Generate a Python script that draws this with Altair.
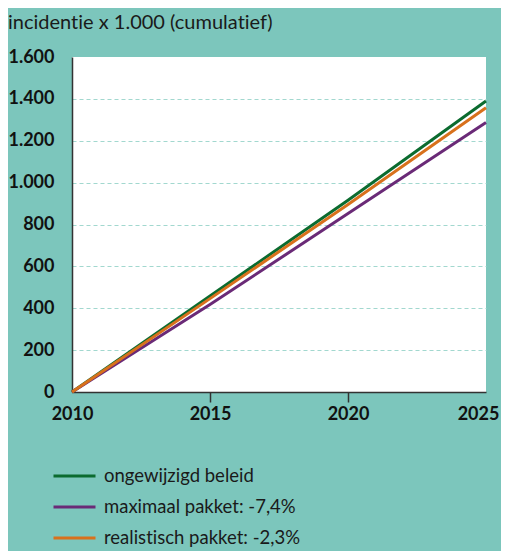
import altair as alt
import pandas as pd

years = [2010, 2015, 2020, 2025]
ongewijzigd = [0, 458, 916, 1390]
maximaal = [0, 418, 852, 1287]
realistisch = [0, 446, 895, 1358]

ZWNJ = "\u200c"  # prevents the t-i ligature of Lato
series_names = ["ongewijzigd beleid", "maximaal pakket: -7,4%",
                "realist" + ZWNJ + "isch pakket: -2,3%"]
series_colors = ["#0b6b2f", "#6a2a77", "#d8711c"]
title_text = "incident" + ZWNJ + "ie x 1.000 (cumulat" + ZWNJ + "ief)"

rows = []
for name, vals in zip(series_names, [ongewijzigd, maximaal, realistisch]):
    for y, v in zip(years, vals):
        rows.append({"jaar": y, "waarde": v, "scenario": name})
df = pd.DataFrame(rows)

BG = "#7cc6bc"
FONT = "Lato"

chart = alt.Chart(df).mark_line(strokeWidth=3).encode(
    x=alt.X("jaar:Q", scale=alt.Scale(domain=[2010, 2025], nice=False, zero=False),
            axis=alt.Axis(values=[2010, 2015, 2020, 2025], format="d", title=None,
                          grid=False, tickSize=10, tickWidth=1.5,
                          tickColor=alt.condition("datum.value == 2015 || datum.value == 2020",
                                                  alt.value("#333333"), alt.value("transparent")),
                          labelOffset=alt.condition("datum.value == 2025",
                                                    alt.value(-8), alt.value(0)),
                          labelPadding=3, labelFontWeight="bold", labelFontSize=18,
                          labelFont=FONT, labelColor="#111111", labelFlush=False,
                          domainColor="#333333", domainWidth=1.5)),
    y=alt.Y("waarde:Q", scale=alt.Scale(domain=[0, 1600], nice=False),
            axis=alt.Axis(values=[0, 200, 400, 600, 800, 1000, 1200, 1400, 1600],
                          format=",d", title=None, ticks=False, labelPadding=18,
                          labelFontWeight="bold", labelFontSize=18, labelFont=FONT,
                          labelColor="#111111", domainColor="#333333", domainWidth=1.5,
                          gridColor="#a2d8cf", gridDash=[4, 3], gridWidth=1.2,
                          gridOpacity=alt.condition("datum.value == 1600 || datum.value == 0",
                                                    alt.value(0), alt.value(1)))),
    color=alt.Color("scenario:N",
                    scale=alt.Scale(domain=series_names, range=series_colors),
                    legend=alt.Legend(title=None, orient="none", legendX=-9.5, legendY=407,
                                      symbolType="M-2,0H2", symbolSize=441,
                                      symbolStrokeWidth=3, labelOffset=17.5,
                                      labelFontSize=18.5, labelFont=FONT, labelColor="#1a1a1a",
                                      labelLimit=400, rowPadding=9, padding=0)),
).properties(
    width=414,
    height=335,
    background=BG,
    padding={"left": 64, "top": 49, "right": 15, "bottom": 159},
    autosize=alt.AutoSizeParams(type="none"),
    title=alt.TitleParams(text=title_text, anchor="start",
                          frame="group", dx=-64, offset=15, fontSize=20,
                          font=FONT, fontWeight="normal", color="#1a1a1a"),
).configure(
    locale={"number": {"decimal": ",", "thousands": ".", "grouping": [3], "currency": ["€", ""]}}
).configure_view(fill="white", strokeWidth=0)

chart.save("out.html", embed_options={"renderer": "svg", "actions": False})
